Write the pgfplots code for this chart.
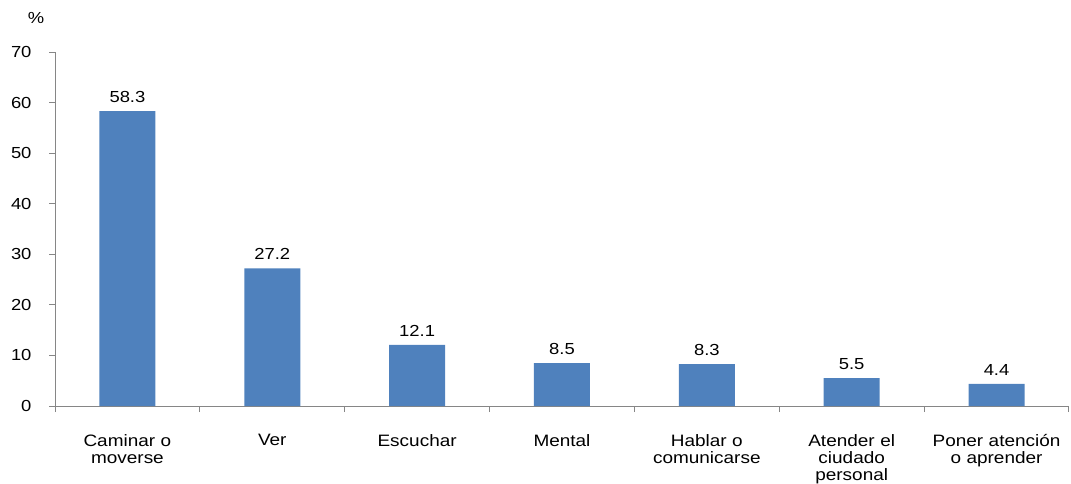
\documentclass[border=0pt]{standalone}
\usepackage{pgfplots}
\pgfplotsset{compat=1.18}
\usepackage{fontspec}
\setmainfont{Liberation Sans}[FakeStretch=1.15]
\definecolor{barblue}{HTML}{4F81BD}
\definecolor{axgray}{HTML}{868686}
\begin{document}
\begin{tikzpicture}[x=1pt,y=1pt]
\useasboundingbox (0,0) rectangle (1071,483);
\node[font=\fontsize{16}{18}\selectfont] at (36,465) {\%};
\begin{axis}[
  at={(55pt,77pt)}, anchor=south west,
  scale only axis, width=1014pt, height=354pt,
  xmin=-0.5, xmax=6.5, ymin=0, ymax=70,
  axis x line*=bottom, axis y line*=left,
  axis line style={axgray, line width=1pt, -},
  tick style={draw=axgray, line width=1pt},
  ytick align=outside, xtick align=outside,
  major tick length=6pt,
  /pgf/number format/assume math mode=true,
  ytick={0,10,...,70},
  extra y ticks={0,10,...,70},
  extra y tick labels={},
  extra y tick style={major tick length=6pt, tick style={draw=axgray, line width=1pt}},
  xtick={-0.5,0.5,1.5,2.5,3.5,4.5,5.5,6.5},
  xticklabels={},
  extra x ticks={0,...,6},
  extra x tick labels={{Caminar o\\moverse},{Ver},{Escuchar},{Mental},{Hablar o\\comunicarse},{Atender el\\ciudado\\personal},{Poner atención\\o aprender}},
  extra x tick style={major tick length=0pt, tick label style={align=center, text width=150pt, font=\fontsize{16.5}{17}\selectfont, yshift=-25pt}},
  y tick label style={font=\fontsize{16}{18}\selectfont, xshift=-14pt},
  clip=false,
]
\addplot[ybar, bar width=56pt, fill=barblue, draw=none,
  nodes near coords,
  nodes near coords style={font=\fontsize{16}{18}\selectfont, black, yshift=5pt},
  point meta=explicit symbolic] coordinates {
  (0,58.3) [58.3] (1,27.2) [27.2] (2,12.1) [12.1] (3,8.5) [8.5] (4,8.3) [8.3] (5,5.5) [5.5] (6,4.4) [4.4]
};
\end{axis}
\end{tikzpicture}
\end{document}
